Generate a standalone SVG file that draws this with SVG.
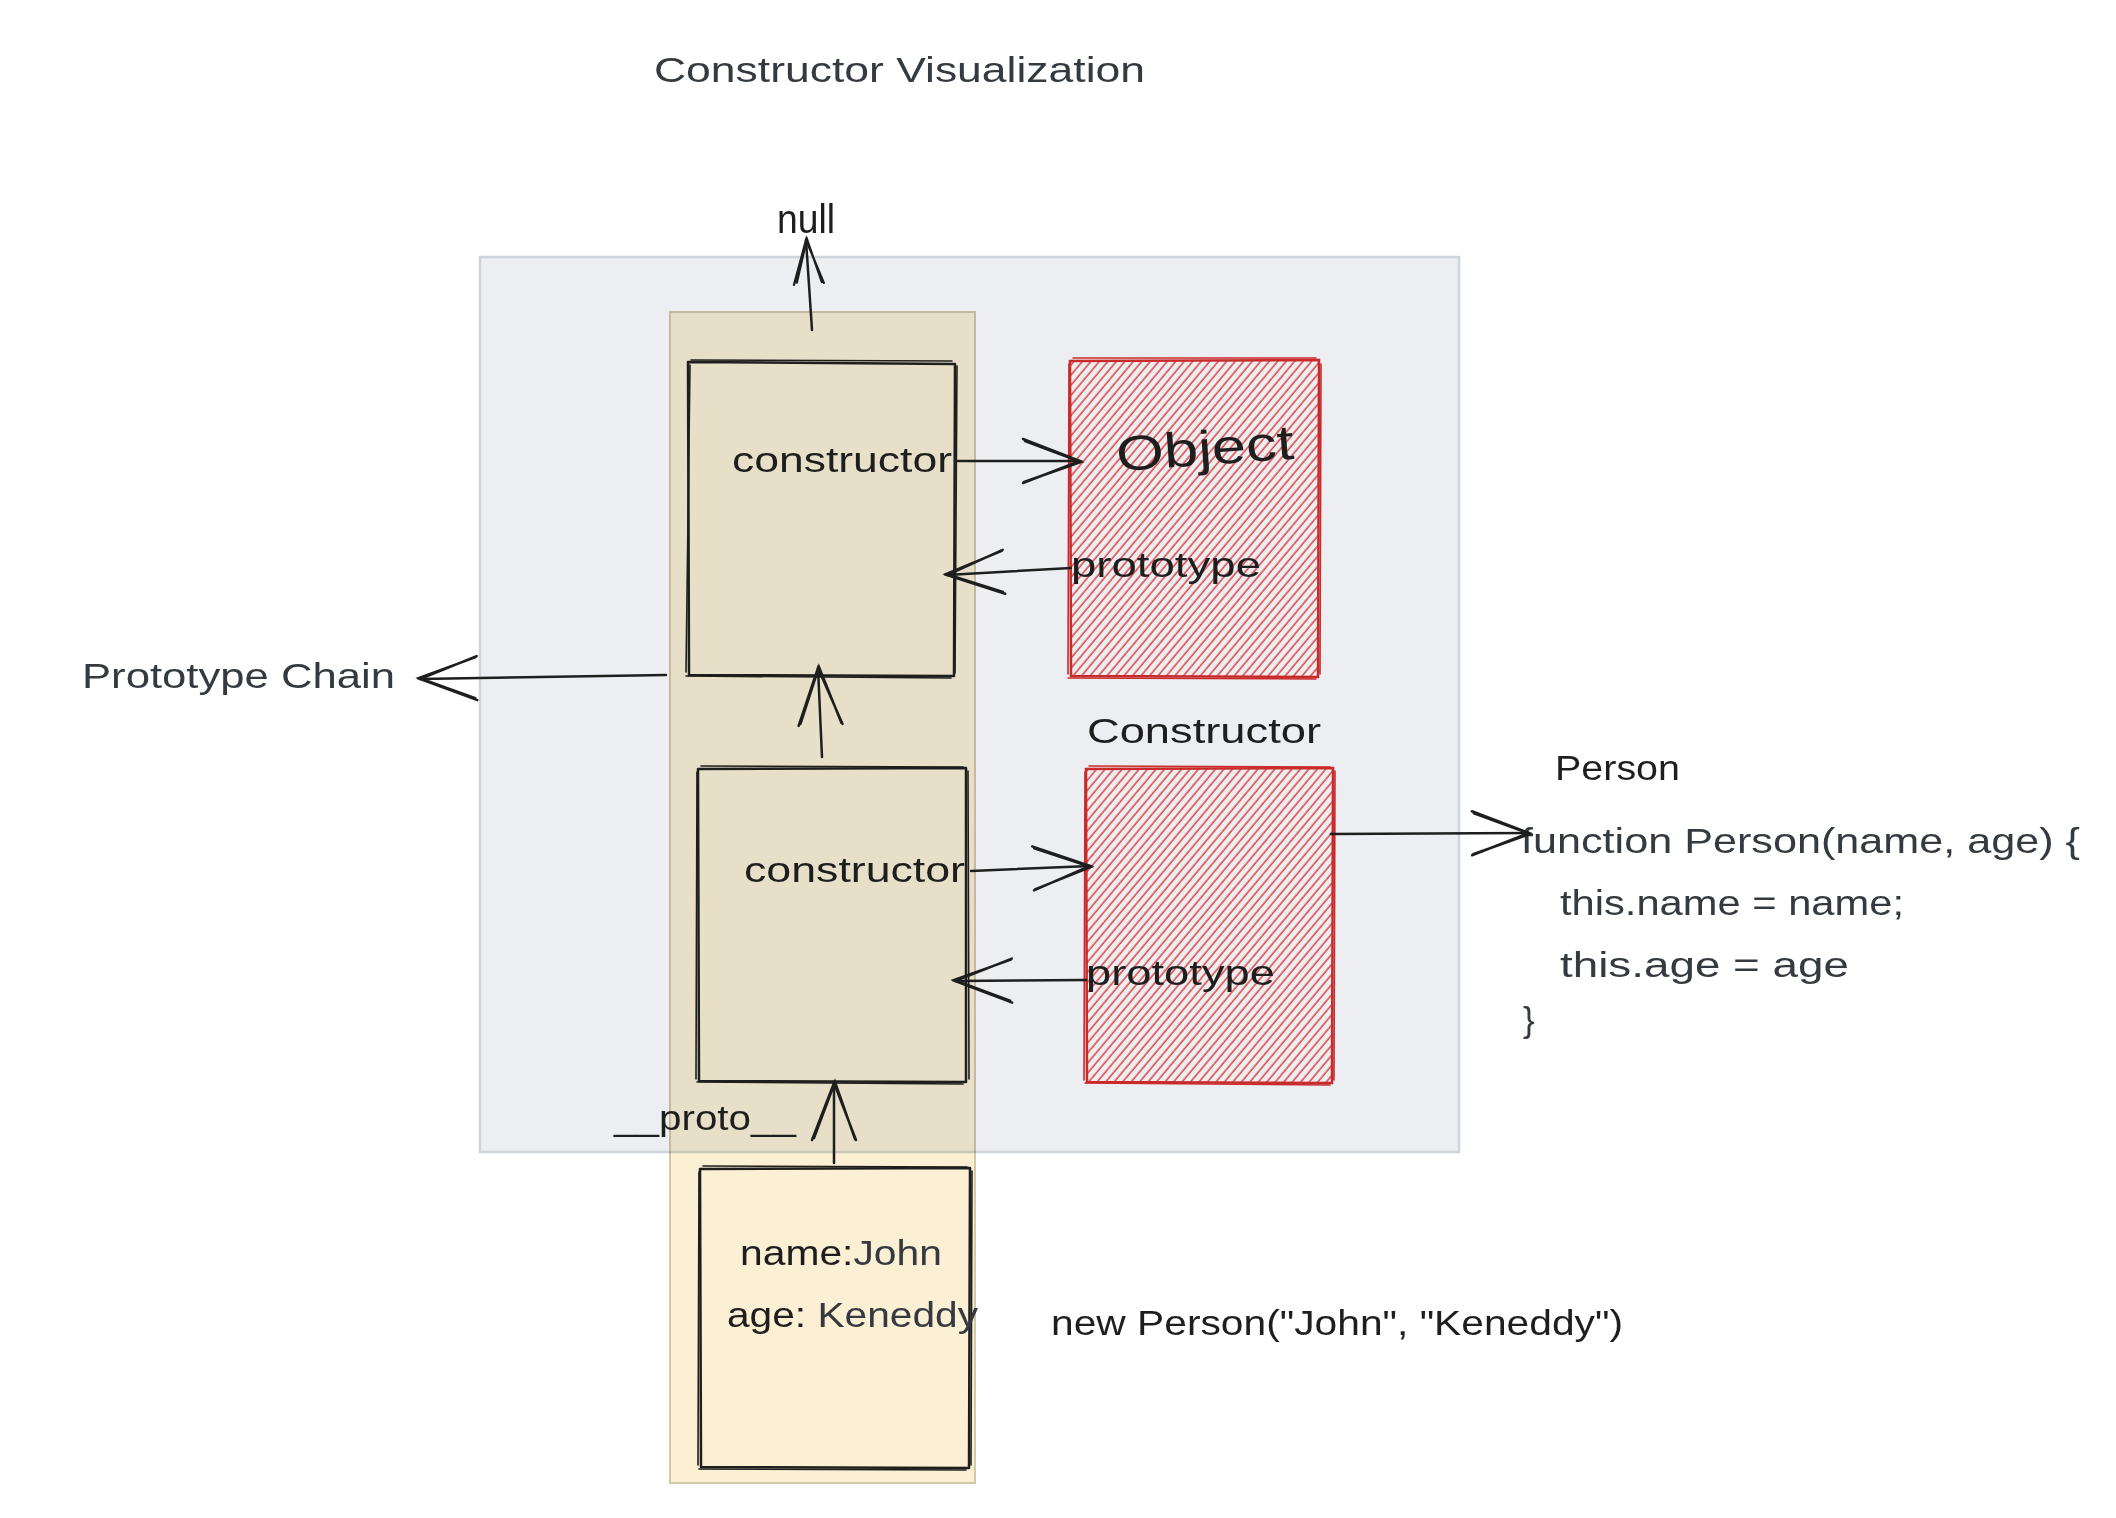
<svg xmlns="http://www.w3.org/2000/svg" width="2116" height="1518" viewBox="0 0 2116 1518">
<style>
  text { font-family: "Liberation Sans", Arial, sans-serif; fill: #1e1e1e; }
  .lbl { font-size: 35px; }
  .gray { fill: #343a40; }
  .ink { stroke: #1e1e1e; stroke-width: 2.5; fill: none; stroke-linecap: round; stroke-linejoin: round; }
  .ink2 { stroke: #1e1e1e; stroke-width: 1.6; fill: none; stroke-linecap: round; }
  .red { stroke: #c92a2a; stroke-width: 2.5; fill: none; stroke-linecap: round; }
  .red2 { stroke: #c92a2a; stroke-width: 1.6; fill: none; stroke-linecap: round; }
  .conn { stroke: #1e1e1e; stroke-width: 2.5; fill: none; stroke-linecap: round; }
</style>
<defs>
  <pattern id="hatch" patternUnits="userSpaceOnUse" width="6.5" height="7" patternTransform="rotate(40)">
    <line x1="2" y1="0" x2="2" y2="7" stroke="#e03131" stroke-width="1.5" stroke-opacity="0.9"/>
  </pattern>
  <marker id="ah" markerUnits="userSpaceOnUse" viewBox="-65 -30 70 60" refX="0" refY="0" markerWidth="70" markerHeight="60" orient="auto" overflow="visible">
    <path d="M-57,-22 L0,0 L-57,22 M-55,-20 L1,1 L-56,21" fill="none" stroke="#1e1e1e" stroke-width="2.5" stroke-linecap="round"/>
  </marker>
  <marker id="ahn" markerUnits="userSpaceOnUse" viewBox="-65 -30 70 60" refX="0" refY="0" markerWidth="70" markerHeight="60" orient="auto" overflow="visible">
    <path d="M-44,-15 L0,0 L-44,15 M-42,-12 L1,1 L-43,13" fill="none" stroke="#1e1e1e" stroke-width="2.2" stroke-linecap="round"/>
  </marker>
</defs>
<rect width="2116" height="1518" fill="#ffffff"/>

<text id="title" class="gray" x="654" y="82" font-size="35" textLength="491" lengthAdjust="spacingAndGlyphs">Constructor Visualization</text>

<g id="panel">
  <rect x="480" y="257" width="979" height="895" fill="#eceef1" stroke="#ced4da" stroke-width="2.5"/>
</g>

<g id="column" style="mix-blend-mode:multiply">
  <rect x="670" y="312" width="305" height="1171" fill="#fbefd4" stroke="#d3c8a8" stroke-width="2"/>
</g>

<g id="box-object-proto">
  <path class="ink" d="M688,362 L955,364 L954,676 L689,675 Z"/>
  <path class="ink2" d="M691,360 L952,361 M957,366 L955,673 M951,678 L686,676 M686,672 L690,365"/>
  <text class="lbl" x="732" y="472" textLength="220" lengthAdjust="spacingAndGlyphs">constructor</text>
</g>

<g id="box-object">
  <rect x="1070" y="360" width="249" height="317" fill="url(#hatch)"/>
  <path class="red" d="M1070,361 L1319,360 L1318,677 L1071,676 Z"/>
  <path class="red2" d="M1073,358 L1316,358 M1321,364 L1320,674 M1316,679 L1068,678 M1068,674 L1069,364"/>
  <text x="1116" y="465" font-size="49" textLength="178" lengthAdjust="spacingAndGlyphs" fill="#2b2b2b" transform="rotate(-4 1205 450)">Object</text>
  <text class="lbl" x="1071" y="577" textLength="190" lengthAdjust="spacingAndGlyphs">prototype</text>
</g>

<text id="null" x="777" y="233" font-size="40" textLength="58" lengthAdjust="spacingAndGlyphs">null</text>

<g id="label-chain">
  <text class="gray" x="82" y="688" font-size="35" textLength="313" lengthAdjust="spacingAndGlyphs">Prototype Chain</text>
</g>

<g id="label-constructor">
  <text x="1087" y="743" font-size="35" textLength="234" lengthAdjust="spacingAndGlyphs">Constructor</text>
</g>

<g id="box-person-proto">
  <path class="ink" d="M698,769 L966,768 L966,1082 L699,1081 Z"/>
  <path class="ink2" d="M701,766 L963,767 M968,771 L969,1079 M963,1084 L697,1082 M696,1079 L697,772"/>
  <text class="lbl" x="744" y="882" textLength="221" lengthAdjust="spacingAndGlyphs">constructor</text>
</g>

<g id="box-person">
  <rect x="1086" y="768" width="247" height="315" fill="url(#hatch)"/>
  <path class="red" d="M1086,769 L1333,768 L1332,1083 L1087,1082 Z"/>
  <path class="red2" d="M1089,766 L1330,767 M1335,771 L1334,1080 M1330,1085 L1085,1083 M1084,1080 L1085,772"/>
  <text class="lbl" x="1086" y="985" textLength="189" lengthAdjust="spacingAndGlyphs">prototype</text>
</g>

<g id="code">
  <text x="1555" y="780" font-size="35" textLength="125" lengthAdjust="spacingAndGlyphs">Person</text>
  <text class="gray" x="1521" y="853" font-size="35" textLength="559" lengthAdjust="spacingAndGlyphs">function Person(name, age) {</text>
  <text class="gray" x="1560" y="915" font-size="35" textLength="344" lengthAdjust="spacingAndGlyphs">this.name = name;</text>
  <text class="gray" x="1560" y="977" font-size="35" textLength="289" lengthAdjust="spacingAndGlyphs">this.age = age</text>
  <text class="gray" x="1523" y="1032" font-size="35">}</text>
</g>

<text id="proto-label" class="lbl" x="614" y="1130" textLength="182" lengthAdjust="spacingAndGlyphs">__proto__</text>

<g id="box-instance">
  <path class="ink" d="M700,1169 L970,1168 L969,1468 L701,1467 Z"/>
  <path class="ink2" d="M703,1166 L967,1167 M972,1171 L971,1465 M966,1470 L699,1469 M698,1465 L699,1172"/>
  <text class="lbl" x="740" y="1265" textLength="202" lengthAdjust="spacingAndGlyphs">name:<tspan fill="#343a40">John</tspan></text>
  <text class="lbl" x="727" y="1327" textLength="251" lengthAdjust="spacingAndGlyphs">age: <tspan fill="#343a40">Keneddy</tspan></text>
</g>

<text id="new-call" x="1051" y="1335" font-size="35" textLength="572" lengthAdjust="spacingAndGlyphs">new Person("John", "Keneddy")</text>

<g id="connectors">
  <path class="conn" d="M812,330 L806,240" marker-end="url(#ahn)"/>
  <path class="conn" d="M958,461 L1080,461" marker-end="url(#ah)"/>
  <path class="conn" d="M1071,568 L947,575" marker-end="url(#ah)"/>
  <path class="conn" d="M666,675 L420,679" marker-end="url(#ah)"/>
  <path class="conn" d="M822,757 L818,668" marker-end="url(#ah)"/>
  <path class="conn" d="M971,871 L1090,866" marker-end="url(#ah)"/>
  <path class="conn" d="M1086,980 L955,981" marker-end="url(#ah)"/>
  <path class="conn" d="M1331,834 L1529,833" marker-end="url(#ah)"/>
  <path class="conn" d="M834,1163 L834,1083" marker-end="url(#ah)"/>
</g>
</svg>
